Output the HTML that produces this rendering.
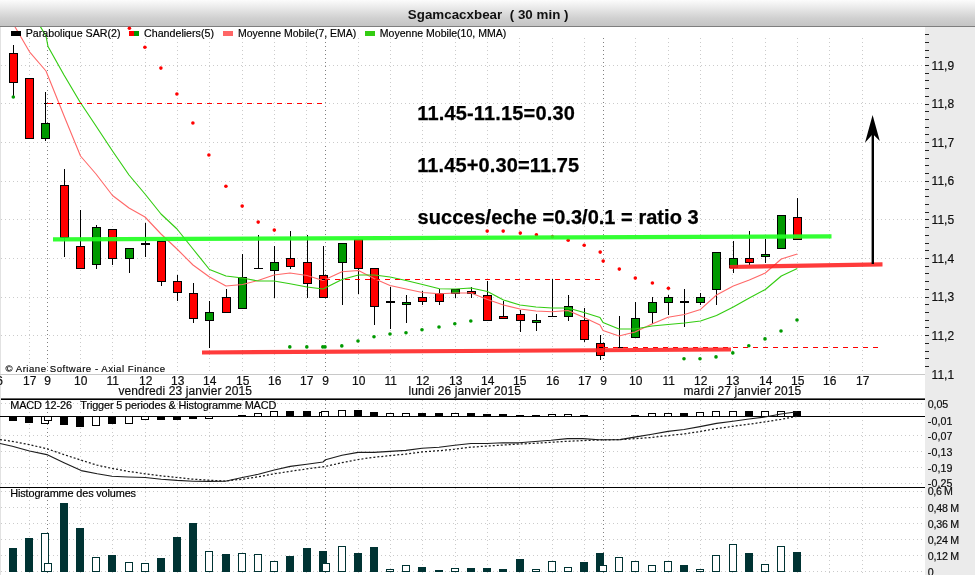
<!DOCTYPE html><html><head><meta charset="utf-8"><title>Sgamcacxbear</title><style>
html,body{margin:0;padding:0;background:#fff;}
body{width:975px;height:575px;overflow:hidden;position:relative;font-family:"Liberation Sans", sans-serif;}
#tb{position:absolute;left:0;top:0;width:975px;height:26px;background:linear-gradient(#fcfcfc 0%,#e4e4e4 38%,#d0d0d0 70%,#c4c4c4 100%);border-bottom:1px solid #7e7e7e;}
#tt{will-change:transform;position:absolute;left:0;top:6px;width:975px;text-align:center;font-weight:bold;font-size:13.5px;line-height:16px;color:#111;white-space:pre;}
svg{position:absolute;left:0;top:0;will-change:transform;}
text{font-family:"Liberation Sans", sans-serif;}.t{stroke:#000;stroke-width:0.18px;}
</style></head><body>
<div id="tb"></div>
<svg width="975" height="575" viewBox="0 0 975 575">
<rect x="925" y="27" width="50" height="548" fill="#ebebeb"/>
<g shape-rendering="crispEdges"><line x1="29.5" y1="38" x2="29.5" y2="373" stroke="#cbcbcb" stroke-width="1" stroke-dasharray="1 3"/><line x1="29.5" y1="400" x2="29.5" y2="487" stroke="#cbcbcb" stroke-width="1" stroke-dasharray="1 3"/><line x1="29.5" y1="488" x2="29.5" y2="575" stroke="#cbcbcb" stroke-width="1" stroke-dasharray="1 3"/><line x1="47.5" y1="38" x2="47.5" y2="373" stroke="#808080" stroke-width="1" stroke-dasharray="1 3"/><line x1="47.5" y1="400" x2="47.5" y2="487" stroke="#808080" stroke-width="1" stroke-dasharray="1 3"/><line x1="47.5" y1="488" x2="47.5" y2="575" stroke="#808080" stroke-width="1" stroke-dasharray="1 3"/><line x1="80.5" y1="38" x2="80.5" y2="373" stroke="#cbcbcb" stroke-width="1" stroke-dasharray="1 3"/><line x1="80.5" y1="400" x2="80.5" y2="487" stroke="#cbcbcb" stroke-width="1" stroke-dasharray="1 3"/><line x1="80.5" y1="488" x2="80.5" y2="575" stroke="#cbcbcb" stroke-width="1" stroke-dasharray="1 3"/><line x1="112.5" y1="38" x2="112.5" y2="373" stroke="#cbcbcb" stroke-width="1" stroke-dasharray="1 3"/><line x1="112.5" y1="400" x2="112.5" y2="487" stroke="#cbcbcb" stroke-width="1" stroke-dasharray="1 3"/><line x1="112.5" y1="488" x2="112.5" y2="575" stroke="#cbcbcb" stroke-width="1" stroke-dasharray="1 3"/><line x1="145.5" y1="38" x2="145.5" y2="373" stroke="#cbcbcb" stroke-width="1" stroke-dasharray="1 3"/><line x1="145.5" y1="400" x2="145.5" y2="487" stroke="#cbcbcb" stroke-width="1" stroke-dasharray="1 3"/><line x1="145.5" y1="488" x2="145.5" y2="575" stroke="#cbcbcb" stroke-width="1" stroke-dasharray="1 3"/><line x1="177.5" y1="38" x2="177.5" y2="373" stroke="#cbcbcb" stroke-width="1" stroke-dasharray="1 3"/><line x1="177.5" y1="400" x2="177.5" y2="487" stroke="#cbcbcb" stroke-width="1" stroke-dasharray="1 3"/><line x1="177.5" y1="488" x2="177.5" y2="575" stroke="#cbcbcb" stroke-width="1" stroke-dasharray="1 3"/><line x1="209.5" y1="38" x2="209.5" y2="373" stroke="#cbcbcb" stroke-width="1" stroke-dasharray="1 3"/><line x1="209.5" y1="400" x2="209.5" y2="487" stroke="#cbcbcb" stroke-width="1" stroke-dasharray="1 3"/><line x1="209.5" y1="488" x2="209.5" y2="575" stroke="#cbcbcb" stroke-width="1" stroke-dasharray="1 3"/><line x1="242.5" y1="38" x2="242.5" y2="373" stroke="#cbcbcb" stroke-width="1" stroke-dasharray="1 3"/><line x1="242.5" y1="400" x2="242.5" y2="487" stroke="#cbcbcb" stroke-width="1" stroke-dasharray="1 3"/><line x1="242.5" y1="488" x2="242.5" y2="575" stroke="#cbcbcb" stroke-width="1" stroke-dasharray="1 3"/><line x1="274.5" y1="38" x2="274.5" y2="373" stroke="#cbcbcb" stroke-width="1" stroke-dasharray="1 3"/><line x1="274.5" y1="400" x2="274.5" y2="487" stroke="#cbcbcb" stroke-width="1" stroke-dasharray="1 3"/><line x1="274.5" y1="488" x2="274.5" y2="575" stroke="#cbcbcb" stroke-width="1" stroke-dasharray="1 3"/><line x1="306.5" y1="38" x2="306.5" y2="373" stroke="#cbcbcb" stroke-width="1" stroke-dasharray="1 3"/><line x1="306.5" y1="400" x2="306.5" y2="487" stroke="#cbcbcb" stroke-width="1" stroke-dasharray="1 3"/><line x1="306.5" y1="488" x2="306.5" y2="575" stroke="#cbcbcb" stroke-width="1" stroke-dasharray="1 3"/><line x1="325.5" y1="38" x2="325.5" y2="373" stroke="#808080" stroke-width="1" stroke-dasharray="1 3"/><line x1="325.5" y1="400" x2="325.5" y2="487" stroke="#808080" stroke-width="1" stroke-dasharray="1 3"/><line x1="325.5" y1="488" x2="325.5" y2="575" stroke="#808080" stroke-width="1" stroke-dasharray="1 3"/><line x1="358.5" y1="38" x2="358.5" y2="373" stroke="#cbcbcb" stroke-width="1" stroke-dasharray="1 3"/><line x1="358.5" y1="400" x2="358.5" y2="487" stroke="#cbcbcb" stroke-width="1" stroke-dasharray="1 3"/><line x1="358.5" y1="488" x2="358.5" y2="575" stroke="#cbcbcb" stroke-width="1" stroke-dasharray="1 3"/><line x1="390.5" y1="38" x2="390.5" y2="373" stroke="#cbcbcb" stroke-width="1" stroke-dasharray="1 3"/><line x1="390.5" y1="400" x2="390.5" y2="487" stroke="#cbcbcb" stroke-width="1" stroke-dasharray="1 3"/><line x1="390.5" y1="488" x2="390.5" y2="575" stroke="#cbcbcb" stroke-width="1" stroke-dasharray="1 3"/><line x1="422.5" y1="38" x2="422.5" y2="373" stroke="#cbcbcb" stroke-width="1" stroke-dasharray="1 3"/><line x1="422.5" y1="400" x2="422.5" y2="487" stroke="#cbcbcb" stroke-width="1" stroke-dasharray="1 3"/><line x1="422.5" y1="488" x2="422.5" y2="575" stroke="#cbcbcb" stroke-width="1" stroke-dasharray="1 3"/><line x1="455.5" y1="38" x2="455.5" y2="373" stroke="#cbcbcb" stroke-width="1" stroke-dasharray="1 3"/><line x1="455.5" y1="400" x2="455.5" y2="487" stroke="#cbcbcb" stroke-width="1" stroke-dasharray="1 3"/><line x1="455.5" y1="488" x2="455.5" y2="575" stroke="#cbcbcb" stroke-width="1" stroke-dasharray="1 3"/><line x1="487.5" y1="38" x2="487.5" y2="373" stroke="#cbcbcb" stroke-width="1" stroke-dasharray="1 3"/><line x1="487.5" y1="400" x2="487.5" y2="487" stroke="#cbcbcb" stroke-width="1" stroke-dasharray="1 3"/><line x1="487.5" y1="488" x2="487.5" y2="575" stroke="#cbcbcb" stroke-width="1" stroke-dasharray="1 3"/><line x1="519.5" y1="38" x2="519.5" y2="373" stroke="#cbcbcb" stroke-width="1" stroke-dasharray="1 3"/><line x1="519.5" y1="400" x2="519.5" y2="487" stroke="#cbcbcb" stroke-width="1" stroke-dasharray="1 3"/><line x1="519.5" y1="488" x2="519.5" y2="575" stroke="#cbcbcb" stroke-width="1" stroke-dasharray="1 3"/><line x1="552.5" y1="38" x2="552.5" y2="373" stroke="#cbcbcb" stroke-width="1" stroke-dasharray="1 3"/><line x1="552.5" y1="400" x2="552.5" y2="487" stroke="#cbcbcb" stroke-width="1" stroke-dasharray="1 3"/><line x1="552.5" y1="488" x2="552.5" y2="575" stroke="#cbcbcb" stroke-width="1" stroke-dasharray="1 3"/><line x1="584.5" y1="38" x2="584.5" y2="373" stroke="#cbcbcb" stroke-width="1" stroke-dasharray="1 3"/><line x1="584.5" y1="400" x2="584.5" y2="487" stroke="#cbcbcb" stroke-width="1" stroke-dasharray="1 3"/><line x1="584.5" y1="488" x2="584.5" y2="575" stroke="#cbcbcb" stroke-width="1" stroke-dasharray="1 3"/><line x1="603.5" y1="38" x2="603.5" y2="373" stroke="#808080" stroke-width="1" stroke-dasharray="1 3"/><line x1="603.5" y1="400" x2="603.5" y2="487" stroke="#808080" stroke-width="1" stroke-dasharray="1 3"/><line x1="603.5" y1="488" x2="603.5" y2="575" stroke="#808080" stroke-width="1" stroke-dasharray="1 3"/><line x1="635.5" y1="38" x2="635.5" y2="373" stroke="#cbcbcb" stroke-width="1" stroke-dasharray="1 3"/><line x1="635.5" y1="400" x2="635.5" y2="487" stroke="#cbcbcb" stroke-width="1" stroke-dasharray="1 3"/><line x1="635.5" y1="488" x2="635.5" y2="575" stroke="#cbcbcb" stroke-width="1" stroke-dasharray="1 3"/><line x1="668.5" y1="38" x2="668.5" y2="373" stroke="#cbcbcb" stroke-width="1" stroke-dasharray="1 3"/><line x1="668.5" y1="400" x2="668.5" y2="487" stroke="#cbcbcb" stroke-width="1" stroke-dasharray="1 3"/><line x1="668.5" y1="488" x2="668.5" y2="575" stroke="#cbcbcb" stroke-width="1" stroke-dasharray="1 3"/><line x1="700.5" y1="38" x2="700.5" y2="373" stroke="#cbcbcb" stroke-width="1" stroke-dasharray="1 3"/><line x1="700.5" y1="400" x2="700.5" y2="487" stroke="#cbcbcb" stroke-width="1" stroke-dasharray="1 3"/><line x1="700.5" y1="488" x2="700.5" y2="575" stroke="#cbcbcb" stroke-width="1" stroke-dasharray="1 3"/><line x1="732.5" y1="38" x2="732.5" y2="373" stroke="#cbcbcb" stroke-width="1" stroke-dasharray="1 3"/><line x1="732.5" y1="400" x2="732.5" y2="487" stroke="#cbcbcb" stroke-width="1" stroke-dasharray="1 3"/><line x1="732.5" y1="488" x2="732.5" y2="575" stroke="#cbcbcb" stroke-width="1" stroke-dasharray="1 3"/><line x1="765.5" y1="38" x2="765.5" y2="373" stroke="#cbcbcb" stroke-width="1" stroke-dasharray="1 3"/><line x1="765.5" y1="400" x2="765.5" y2="487" stroke="#cbcbcb" stroke-width="1" stroke-dasharray="1 3"/><line x1="765.5" y1="488" x2="765.5" y2="575" stroke="#cbcbcb" stroke-width="1" stroke-dasharray="1 3"/><line x1="797.5" y1="38" x2="797.5" y2="373" stroke="#cbcbcb" stroke-width="1" stroke-dasharray="1 3"/><line x1="797.5" y1="400" x2="797.5" y2="487" stroke="#cbcbcb" stroke-width="1" stroke-dasharray="1 3"/><line x1="797.5" y1="488" x2="797.5" y2="575" stroke="#cbcbcb" stroke-width="1" stroke-dasharray="1 3"/><line x1="829.5" y1="38" x2="829.5" y2="373" stroke="#cbcbcb" stroke-width="1" stroke-dasharray="1 3"/><line x1="829.5" y1="400" x2="829.5" y2="487" stroke="#cbcbcb" stroke-width="1" stroke-dasharray="1 3"/><line x1="829.5" y1="488" x2="829.5" y2="575" stroke="#cbcbcb" stroke-width="1" stroke-dasharray="1 3"/><line x1="862.5" y1="38" x2="862.5" y2="373" stroke="#cbcbcb" stroke-width="1" stroke-dasharray="1 3"/><line x1="862.5" y1="400" x2="862.5" y2="487" stroke="#cbcbcb" stroke-width="1" stroke-dasharray="1 3"/><line x1="862.5" y1="488" x2="862.5" y2="575" stroke="#cbcbcb" stroke-width="1" stroke-dasharray="1 3"/><line x1="1" y1="65.5" x2="925" y2="65.5" stroke="#cbcbcb" stroke-width="1" stroke-dasharray="1 3"/><line x1="1" y1="103.5" x2="925" y2="103.5" stroke="#cbcbcb" stroke-width="1" stroke-dasharray="1 3"/><line x1="1" y1="142.5" x2="925" y2="142.5" stroke="#cbcbcb" stroke-width="1" stroke-dasharray="1 3"/><line x1="1" y1="181.5" x2="925" y2="181.5" stroke="#cbcbcb" stroke-width="1" stroke-dasharray="1 3"/><line x1="1" y1="219.5" x2="925" y2="219.5" stroke="#cbcbcb" stroke-width="1" stroke-dasharray="1 3"/><line x1="1" y1="258.5" x2="925" y2="258.5" stroke="#cbcbcb" stroke-width="1" stroke-dasharray="1 3"/><line x1="1" y1="297.5" x2="925" y2="297.5" stroke="#cbcbcb" stroke-width="1" stroke-dasharray="1 3"/><line x1="1" y1="335.5" x2="925" y2="335.5" stroke="#cbcbcb" stroke-width="1" stroke-dasharray="1 3"/><line x1="1" y1="403.5" x2="925" y2="403.5" stroke="#cbcbcb" stroke-width="1" stroke-dasharray="1 3"/><line x1="1" y1="435.5" x2="925" y2="435.5" stroke="#cbcbcb" stroke-width="1" stroke-dasharray="1 3"/><line x1="1" y1="451.5" x2="925" y2="451.5" stroke="#cbcbcb" stroke-width="1" stroke-dasharray="1 3"/><line x1="1" y1="467.5" x2="925" y2="467.5" stroke="#cbcbcb" stroke-width="1" stroke-dasharray="1 3"/><line x1="1" y1="483.5" x2="925" y2="483.5" stroke="#cbcbcb" stroke-width="1" stroke-dasharray="1 3"/><line x1="1" y1="491.5" x2="925" y2="491.5" stroke="#cbcbcb" stroke-width="1" stroke-dasharray="1 3"/><line x1="1" y1="507.5" x2="925" y2="507.5" stroke="#cbcbcb" stroke-width="1" stroke-dasharray="1 3"/><line x1="1" y1="523.5" x2="925" y2="523.5" stroke="#cbcbcb" stroke-width="1" stroke-dasharray="1 3"/><line x1="1" y1="539.5" x2="925" y2="539.5" stroke="#cbcbcb" stroke-width="1" stroke-dasharray="1 3"/><line x1="1" y1="555.5" x2="925" y2="555.5" stroke="#cbcbcb" stroke-width="1" stroke-dasharray="1 3"/><line x1="1" y1="571.5" x2="925" y2="571.5" stroke="#cbcbcb" stroke-width="1" stroke-dasharray="1 3"/></g>
<rect x="0" y="27" width="1" height="548" fill="#e2e2e2"/>
<g shape-rendering="crispEdges">
<rect x="0" y="374" width="925" height="1" fill="#c8c8c8"/>
<rect x="0" y="416" width="925" height="1" fill="#000"/>
<rect x="0" y="487" width="925" height="1" fill="#000"/>
<rect x="925" y="34" width="4" height="1" fill="#222"/>
<rect x="925" y="42" width="4" height="1" fill="#222"/>
<rect x="925" y="50" width="4" height="1" fill="#222"/>
<rect x="925" y="57" width="4" height="1" fill="#222"/>
<rect x="925" y="65" width="4" height="1" fill="#222"/>
<rect x="925" y="73" width="4" height="1" fill="#222"/>
<rect x="925" y="80" width="4" height="1" fill="#222"/>
<rect x="925" y="88" width="4" height="1" fill="#222"/>
<rect x="925" y="96" width="4" height="1" fill="#222"/>
<rect x="925" y="104" width="4" height="1" fill="#222"/>
<rect x="925" y="111" width="4" height="1" fill="#222"/>
<rect x="925" y="119" width="4" height="1" fill="#222"/>
<rect x="925" y="127" width="4" height="1" fill="#222"/>
<rect x="925" y="134" width="4" height="1" fill="#222"/>
<rect x="925" y="142" width="4" height="1" fill="#222"/>
<rect x="925" y="150" width="4" height="1" fill="#222"/>
<rect x="925" y="158" width="4" height="1" fill="#222"/>
<rect x="925" y="165" width="4" height="1" fill="#222"/>
<rect x="925" y="173" width="4" height="1" fill="#222"/>
<rect x="925" y="181" width="4" height="1" fill="#222"/>
<rect x="925" y="189" width="4" height="1" fill="#222"/>
<rect x="925" y="196" width="4" height="1" fill="#222"/>
<rect x="925" y="204" width="4" height="1" fill="#222"/>
<rect x="925" y="212" width="4" height="1" fill="#222"/>
<rect x="925" y="219" width="4" height="1" fill="#222"/>
<rect x="925" y="227" width="4" height="1" fill="#222"/>
<rect x="925" y="235" width="4" height="1" fill="#222"/>
<rect x="925" y="243" width="4" height="1" fill="#222"/>
<rect x="925" y="250" width="4" height="1" fill="#222"/>
<rect x="925" y="258" width="4" height="1" fill="#222"/>
<rect x="925" y="266" width="4" height="1" fill="#222"/>
<rect x="925" y="273" width="4" height="1" fill="#222"/>
<rect x="925" y="281" width="4" height="1" fill="#222"/>
<rect x="925" y="289" width="4" height="1" fill="#222"/>
<rect x="925" y="297" width="4" height="1" fill="#222"/>
<rect x="925" y="304" width="4" height="1" fill="#222"/>
<rect x="925" y="312" width="4" height="1" fill="#222"/>
<rect x="925" y="320" width="4" height="1" fill="#222"/>
<rect x="925" y="327" width="4" height="1" fill="#222"/>
<rect x="925" y="335" width="4" height="1" fill="#222"/>
<rect x="925" y="343" width="4" height="1" fill="#222"/>
<rect x="925" y="351" width="4" height="1" fill="#222"/>
<rect x="925" y="358" width="4" height="1" fill="#222"/>
<rect x="925" y="366" width="4" height="1" fill="#222"/>
</g>
<g shape-rendering="crispEdges">
<rect x="13" y="45" width="1" height="52" fill="#000"/>
<rect x="9.5" y="53.5" width="8" height="29" fill="#ff0000" stroke="#000" stroke-width="1"/>
<rect x="29" y="78" width="1" height="61" fill="#000"/>
<rect x="25.5" y="78.5" width="8" height="60" fill="#ff0000" stroke="#000" stroke-width="1"/>
<rect x="45" y="92" width="1" height="49" fill="#000"/>
<rect x="41.5" y="123.5" width="8" height="15" fill="#009900" stroke="#000" stroke-width="1"/>
<rect x="64" y="169" width="1" height="88" fill="#000"/>
<rect x="60.5" y="185.5" width="8" height="52" fill="#ff0000" stroke="#000" stroke-width="1"/>
<rect x="80" y="210" width="1" height="59" fill="#000"/>
<rect x="76.5" y="246.5" width="8" height="22" fill="#ff0000" stroke="#000" stroke-width="1"/>
<rect x="96" y="225" width="1" height="44" fill="#000"/>
<rect x="92.5" y="227.5" width="8" height="37" fill="#009900" stroke="#000" stroke-width="1"/>
<rect x="112" y="229" width="1" height="36" fill="#000"/>
<rect x="108.5" y="229.5" width="8" height="29" fill="#ff0000" stroke="#000" stroke-width="1"/>
<rect x="129" y="248" width="1" height="25" fill="#000"/>
<rect x="125.5" y="248.5" width="8" height="10" fill="#009900" stroke="#000" stroke-width="1"/>
<rect x="145" y="223" width="1" height="34" fill="#000"/>
<rect x="141" y="243" width="9" height="2" fill="#000"/>
<rect x="161" y="241" width="1" height="45" fill="#000"/>
<rect x="157.5" y="241.5" width="8" height="40" fill="#ff0000" stroke="#000" stroke-width="1"/>
<rect x="177" y="275" width="1" height="26" fill="#000"/>
<rect x="173.5" y="281.5" width="8" height="11" fill="#ff0000" stroke="#000" stroke-width="1"/>
<rect x="193" y="283" width="1" height="40" fill="#000"/>
<rect x="189.5" y="293.5" width="8" height="25" fill="#ff0000" stroke="#000" stroke-width="1"/>
<rect x="209" y="301" width="1" height="47" fill="#000"/>
<rect x="205.5" y="312.5" width="8" height="8" fill="#009900" stroke="#000" stroke-width="1"/>
<rect x="226" y="289" width="1" height="24" fill="#000"/>
<rect x="222.5" y="297.5" width="8" height="15" fill="#ff0000" stroke="#000" stroke-width="1"/>
<rect x="242" y="254" width="1" height="55" fill="#000"/>
<rect x="238.5" y="277.5" width="8" height="31" fill="#009900" stroke="#000" stroke-width="1"/>
<rect x="258" y="235" width="1" height="34" fill="#000"/>
<rect x="254" y="268" width="9" height="1" fill="#000"/>
<rect x="274" y="246" width="1" height="52" fill="#000"/>
<rect x="270.5" y="262.5" width="8" height="8" fill="#009900" stroke="#000" stroke-width="1"/>
<rect x="290" y="231" width="1" height="38" fill="#000"/>
<rect x="286.5" y="258.5" width="8" height="8" fill="#ff0000" stroke="#000" stroke-width="1"/>
<rect x="307" y="235" width="1" height="63" fill="#000"/>
<rect x="303.5" y="262.5" width="8" height="21" fill="#ff0000" stroke="#000" stroke-width="1"/>
<rect x="323" y="246" width="1" height="52" fill="#000"/>
<rect x="319.5" y="275.5" width="8" height="22" fill="#ff0000" stroke="#000" stroke-width="1"/>
<rect x="342" y="243" width="1" height="62" fill="#000"/>
<rect x="338.5" y="243.5" width="8" height="19" fill="#009900" stroke="#000" stroke-width="1"/>
<rect x="358" y="239" width="1" height="55" fill="#000"/>
<rect x="354.5" y="239.5" width="8" height="29" fill="#ff0000" stroke="#000" stroke-width="1"/>
<rect x="374" y="268" width="1" height="57" fill="#000"/>
<rect x="370.5" y="268.5" width="8" height="38" fill="#ff0000" stroke="#000" stroke-width="1"/>
<rect x="390" y="287" width="1" height="42" fill="#000"/>
<rect x="386" y="301" width="9" height="2" fill="#000"/>
<rect x="406" y="295" width="1" height="28" fill="#000"/>
<rect x="402.5" y="302.5" width="8" height="2" fill="#009900" stroke="#000" stroke-width="1"/>
<rect x="422" y="291" width="1" height="14" fill="#000"/>
<rect x="418.5" y="297.5" width="8" height="4" fill="#ff0000" stroke="#000" stroke-width="1"/>
<rect x="439" y="289" width="1" height="16" fill="#000"/>
<rect x="435.5" y="293.5" width="8" height="8" fill="#ff0000" stroke="#000" stroke-width="1"/>
<rect x="455" y="289" width="1" height="9" fill="#000"/>
<rect x="451.5" y="289.5" width="8" height="4" fill="#009900" stroke="#000" stroke-width="1"/>
<rect x="471" y="287" width="1" height="11" fill="#000"/>
<rect x="467.5" y="291.5" width="8" height="2" fill="#ff0000" stroke="#000" stroke-width="1"/>
<rect x="487" y="281" width="1" height="40" fill="#000"/>
<rect x="483.5" y="295.5" width="8" height="25" fill="#ff0000" stroke="#000" stroke-width="1"/>
<rect x="503" y="301" width="1" height="18" fill="#000"/>
<rect x="499.5" y="316.5" width="8" height="2" fill="#ff0000" stroke="#000" stroke-width="1"/>
<rect x="520" y="310" width="1" height="22" fill="#000"/>
<rect x="516.5" y="314.5" width="8" height="6" fill="#ff0000" stroke="#000" stroke-width="1"/>
<rect x="536" y="314" width="1" height="17" fill="#000"/>
<rect x="532.5" y="320.5" width="8" height="2" fill="#009900" stroke="#000" stroke-width="1"/>
<rect x="552" y="279" width="1" height="38" fill="#000"/>
<rect x="548" y="316" width="9" height="1" fill="#000"/>
<rect x="568" y="295" width="1" height="26" fill="#000"/>
<rect x="564.5" y="306.5" width="8" height="10" fill="#009900" stroke="#000" stroke-width="1"/>
<rect x="584" y="308" width="1" height="34" fill="#000"/>
<rect x="580.5" y="320.5" width="8" height="19" fill="#ff0000" stroke="#000" stroke-width="1"/>
<rect x="600" y="335" width="1" height="25" fill="#000"/>
<rect x="596.5" y="343.5" width="8" height="12" fill="#ff0000" stroke="#000" stroke-width="1"/>
<rect x="619" y="316" width="1" height="32" fill="#000"/>
<rect x="615" y="347" width="9" height="1" fill="#000"/>
<rect x="635" y="302" width="1" height="36" fill="#000"/>
<rect x="631.5" y="318.5" width="8" height="19" fill="#009900" stroke="#000" stroke-width="1"/>
<rect x="652" y="297" width="1" height="27" fill="#000"/>
<rect x="648.5" y="302.5" width="8" height="10" fill="#009900" stroke="#000" stroke-width="1"/>
<rect x="668" y="295" width="1" height="20" fill="#000"/>
<rect x="664.5" y="297.5" width="8" height="5" fill="#009900" stroke="#000" stroke-width="1"/>
<rect x="684" y="289" width="1" height="38" fill="#000"/>
<rect x="680" y="301" width="9" height="2" fill="#000"/>
<rect x="700" y="293" width="1" height="12" fill="#000"/>
<rect x="696.5" y="297.5" width="8" height="5" fill="#009900" stroke="#000" stroke-width="1"/>
<rect x="716" y="252" width="1" height="53" fill="#000"/>
<rect x="712.5" y="252.5" width="8" height="37" fill="#009900" stroke="#000" stroke-width="1"/>
<rect x="733" y="241" width="1" height="32" fill="#000"/>
<rect x="729.5" y="258.5" width="8" height="9" fill="#009900" stroke="#000" stroke-width="1"/>
<rect x="749" y="231" width="1" height="34" fill="#000"/>
<rect x="745.5" y="258.5" width="8" height="4" fill="#ff0000" stroke="#000" stroke-width="1"/>
<rect x="765" y="239" width="1" height="24" fill="#000"/>
<rect x="761.5" y="254.5" width="8" height="2" fill="#009900" stroke="#000" stroke-width="1"/>
<rect x="781" y="215" width="1" height="34" fill="#000"/>
<rect x="777.5" y="215.5" width="8" height="33" fill="#009900" stroke="#000" stroke-width="1"/>
<rect x="797" y="198" width="1" height="42" fill="#000"/>
<rect x="793.5" y="217.5" width="8" height="22" fill="#ff0000" stroke="#000" stroke-width="1"/>
</g>
<rect x="1" y="398.4" width="924" height="1.6" fill="#000"/>
<clipPath id="cm"><rect x="0" y="27" width="925" height="346"/></clipPath><g clip-path="url(#cm)">
<polyline fill="none" stroke="#ff6868" stroke-width="1.1" stroke-linejoin="round"  points="14.5,26.0 29.5,51.8 46.0,71.0 64.5,117.0 80.5,156.0 96.0,174.0 112.5,195.5 129.0,208.0 145.0,217.0 161.0,234.0 177.0,249.0 193.0,265.0 209.5,277.0 226.0,286.0 242.5,284.5 258.0,280.5 274.0,275.0 290.0,273.0 307.0,275.5 323.0,280.5 342.0,271.8 358.5,270.5 374.5,278.8 390.0,285.5 406.0,289.0 422.5,292.5 439.5,293.8 455.5,293.0 471.0,293.0 487.5,299.5 503.5,305.0 520.0,309.0 536.0,311.0 552.0,311.8 568.0,310.5 584.0,317.5 600.0,325.0 603.0,330.5 619.0,336.0 635.0,332.0 652.0,324.0 668.0,317.3 684.5,314.5 700.5,309.4 716.5,295.0 733.3,286.0 749.3,280.0 765.3,273.0 781.3,259.0 797.3,254.0"/>
<polyline fill="none" stroke="#33cc11" stroke-width="1.15" stroke-linejoin="round"  points="40.0,26.0 46.0,36.0 48.0,46.5 64.0,75.0 80.0,102.0 96.0,126.0 112.5,151.0 129.0,175.0 145.0,194.0 161.0,214.0 177.0,229.0 193.0,249.0 209.5,269.5 226.0,276.0 242.5,278.0 258.0,281.0 274.0,281.0 290.0,283.8 307.0,287.0 323.0,289.0 342.0,279.5 358.5,275.0 374.5,275.0 390.0,277.0 406.0,280.5 422.5,284.5 439.5,288.8 455.5,289.0 471.0,288.0 487.5,291.5 503.5,300.0 520.0,305.0 536.0,307.0 552.0,308.0 568.0,308.0 584.0,312.5 600.0,317.5 603.0,322.5 619.0,329.0 635.0,329.0 652.0,326.0 668.0,324.5 684.5,323.0 700.5,321.0 716.5,315.5 733.3,307.0 749.3,298.0 765.3,289.5 781.3,276.0 797.3,268.5"/>
</g>
<g shape-rendering="crispEdges">
<rect x="44" y="103" width="9" height="1" fill="#000"/>
<rect x="47" y="103" width="5" height="1" fill="#ff0000"/>
<rect x="57" y="103" width="5" height="1" fill="#ff0000"/>
<rect x="67" y="103" width="5" height="1" fill="#ff0000"/>
<rect x="77" y="103" width="5" height="1" fill="#ff0000"/>
<rect x="87" y="103" width="5" height="1" fill="#ff0000"/>
<rect x="97" y="103" width="5" height="1" fill="#ff0000"/>
<rect x="107" y="103" width="5" height="1" fill="#ff0000"/>
<rect x="117" y="103" width="5" height="1" fill="#ff0000"/>
<rect x="127" y="103" width="5" height="1" fill="#ff0000"/>
<rect x="137" y="103" width="5" height="1" fill="#ff0000"/>
<rect x="147" y="103" width="5" height="1" fill="#ff0000"/>
<rect x="157" y="103" width="5" height="1" fill="#ff0000"/>
<rect x="167" y="103" width="5" height="1" fill="#ff0000"/>
<rect x="177" y="103" width="5" height="1" fill="#ff0000"/>
<rect x="187" y="103" width="5" height="1" fill="#ff0000"/>
<rect x="197" y="103" width="5" height="1" fill="#ff0000"/>
<rect x="207" y="103" width="5" height="1" fill="#ff0000"/>
<rect x="217" y="103" width="5" height="1" fill="#ff0000"/>
<rect x="227" y="103" width="5" height="1" fill="#ff0000"/>
<rect x="237" y="103" width="5" height="1" fill="#ff0000"/>
<rect x="247" y="103" width="5" height="1" fill="#ff0000"/>
<rect x="257" y="103" width="5" height="1" fill="#ff0000"/>
<rect x="267" y="103" width="5" height="1" fill="#ff0000"/>
<rect x="277" y="103" width="5" height="1" fill="#ff0000"/>
<rect x="287" y="103" width="5" height="1" fill="#ff0000"/>
<rect x="297" y="103" width="5" height="1" fill="#ff0000"/>
<rect x="307" y="103" width="5" height="1" fill="#ff0000"/>
<rect x="317" y="103" width="5" height="1" fill="#ff0000"/>
<rect x="322" y="279" width="3" height="1" fill="#000"/>
<rect x="325" y="279" width="5" height="1" fill="#ff0000"/>
<rect x="335" y="279" width="5" height="1" fill="#ff0000"/>
<rect x="345" y="279" width="5" height="1" fill="#ff0000"/>
<rect x="355" y="279" width="5" height="1" fill="#ff0000"/>
<rect x="365" y="279" width="5" height="1" fill="#ff0000"/>
<rect x="375" y="279" width="5" height="1" fill="#ff0000"/>
<rect x="385" y="279" width="5" height="1" fill="#ff0000"/>
<rect x="395" y="279" width="5" height="1" fill="#ff0000"/>
<rect x="405" y="279" width="5" height="1" fill="#ff0000"/>
<rect x="415" y="279" width="5" height="1" fill="#ff0000"/>
<rect x="425" y="279" width="5" height="1" fill="#ff0000"/>
<rect x="435" y="279" width="5" height="1" fill="#ff0000"/>
<rect x="445" y="279" width="5" height="1" fill="#ff0000"/>
<rect x="455" y="279" width="5" height="1" fill="#ff0000"/>
<rect x="465" y="279" width="5" height="1" fill="#ff0000"/>
<rect x="475" y="279" width="5" height="1" fill="#ff0000"/>
<rect x="485" y="279" width="5" height="1" fill="#ff0000"/>
<rect x="495" y="279" width="5" height="1" fill="#ff0000"/>
<rect x="505" y="279" width="5" height="1" fill="#ff0000"/>
<rect x="515" y="279" width="5" height="1" fill="#ff0000"/>
<rect x="525" y="279" width="5" height="1" fill="#ff0000"/>
<rect x="535" y="279" width="5" height="1" fill="#ff0000"/>
<rect x="545" y="279" width="5" height="1" fill="#ff0000"/>
<rect x="555" y="279" width="5" height="1" fill="#ff0000"/>
<rect x="565" y="279" width="5" height="1" fill="#ff0000"/>
<rect x="575" y="279" width="5" height="1" fill="#ff0000"/>
<rect x="585" y="279" width="5" height="1" fill="#ff0000"/>
<rect x="595" y="279" width="5" height="1" fill="#ff0000"/>
<rect x="599" y="347" width="4" height="1" fill="#000"/>
<rect x="603" y="347" width="5" height="1" fill="#ff0000"/>
<rect x="613" y="347" width="5" height="1" fill="#ff0000"/>
<rect x="623" y="347" width="5" height="1" fill="#ff0000"/>
<rect x="633" y="347" width="5" height="1" fill="#ff0000"/>
<rect x="643" y="347" width="5" height="1" fill="#ff0000"/>
<rect x="653" y="347" width="5" height="1" fill="#ff0000"/>
<rect x="663" y="347" width="5" height="1" fill="#ff0000"/>
<rect x="673" y="347" width="5" height="1" fill="#ff0000"/>
<rect x="683" y="347" width="5" height="1" fill="#ff0000"/>
<rect x="693" y="347" width="5" height="1" fill="#ff0000"/>
<rect x="703" y="347" width="5" height="1" fill="#ff0000"/>
<rect x="713" y="347" width="5" height="1" fill="#ff0000"/>
<rect x="723" y="347" width="5" height="1" fill="#ff0000"/>
<rect x="733" y="347" width="5" height="1" fill="#ff0000"/>
<rect x="743" y="347" width="5" height="1" fill="#ff0000"/>
<rect x="753" y="347" width="5" height="1" fill="#ff0000"/>
<rect x="763" y="347" width="5" height="1" fill="#ff0000"/>
<rect x="773" y="347" width="5" height="1" fill="#ff0000"/>
<rect x="783" y="347" width="5" height="1" fill="#ff0000"/>
<rect x="793" y="347" width="5" height="1" fill="#ff0000"/>
<rect x="803" y="347" width="5" height="1" fill="#ff0000"/>
<rect x="813" y="347" width="5" height="1" fill="#ff0000"/>
<rect x="823" y="347" width="5" height="1" fill="#ff0000"/>
<rect x="833" y="347" width="5" height="1" fill="#ff0000"/>
<rect x="843" y="347" width="5" height="1" fill="#ff0000"/>
<rect x="853" y="347" width="5" height="1" fill="#ff0000"/>
<rect x="863" y="347" width="5" height="1" fill="#ff0000"/>
<rect x="873" y="347" width="5" height="1" fill="#ff0000"/>
</g>
<circle cx="129.4" cy="28.3" r="1.8" fill="#ff0000"/>
<circle cx="144.9" cy="47.3" r="1.8" fill="#ff0000"/>
<circle cx="160.9" cy="68.1" r="1.8" fill="#ff0000"/>
<circle cx="176.9" cy="94.0" r="1.8" fill="#ff0000"/>
<circle cx="192.9" cy="123.0" r="1.8" fill="#ff0000"/>
<circle cx="208.9" cy="155.0" r="1.8" fill="#ff0000"/>
<circle cx="225.9" cy="186.3" r="1.8" fill="#ff0000"/>
<circle cx="242.2" cy="206.1" r="1.8" fill="#ff0000"/>
<circle cx="258.2" cy="222.1" r="1.8" fill="#ff0000"/>
<circle cx="274.3" cy="230.1" r="1.8" fill="#ff0000"/>
<circle cx="487.2" cy="231.1" r="1.8" fill="#ff0000"/>
<circle cx="503.2" cy="231.1" r="1.8" fill="#ff0000"/>
<circle cx="520.3" cy="233.1" r="1.8" fill="#ff0000"/>
<circle cx="536.4" cy="234.8" r="1.8" fill="#ff0000"/>
<circle cx="552.4" cy="236.8" r="1.8" fill="#ff0000"/>
<circle cx="568.2" cy="240.3" r="1.8" fill="#ff0000"/>
<circle cx="584.2" cy="245.3" r="1.8" fill="#ff0000"/>
<circle cx="600.2" cy="252.1" r="1.8" fill="#ff0000"/>
<circle cx="603.2" cy="261.1" r="1.8" fill="#ff0000"/>
<circle cx="619.3" cy="269.1" r="1.8" fill="#ff0000"/>
<circle cx="635.3" cy="278.1" r="1.8" fill="#ff0000"/>
<circle cx="652.4" cy="283.0" r="1.8" fill="#ff0000"/>
<circle cx="668.4" cy="288.3" r="1.8" fill="#ff0000"/>
<circle cx="13.3" cy="97.0" r="1.8" fill="#009900"/>
<circle cx="289.8" cy="346.9" r="1.8" fill="#009900"/>
<circle cx="306.8" cy="346.9" r="1.8" fill="#009900"/>
<circle cx="322.8" cy="346.9" r="1.8" fill="#009900"/>
<circle cx="325.0" cy="346.9" r="1.8" fill="#009900"/>
<circle cx="341.8" cy="345.9" r="1.8" fill="#009900"/>
<circle cx="358.0" cy="341.0" r="1.8" fill="#009900"/>
<circle cx="374.0" cy="336.8" r="1.8" fill="#009900"/>
<circle cx="390.0" cy="334.0" r="1.8" fill="#009900"/>
<circle cx="406.0" cy="332.8" r="1.8" fill="#009900"/>
<circle cx="422.0" cy="329.7" r="1.8" fill="#009900"/>
<circle cx="439.0" cy="327.0" r="1.8" fill="#009900"/>
<circle cx="454.8" cy="323.8" r="1.8" fill="#009900"/>
<circle cx="470.8" cy="321.0" r="1.8" fill="#009900"/>
<circle cx="684.0" cy="358.8" r="1.8" fill="#009900"/>
<circle cx="700.0" cy="358.8" r="1.8" fill="#009900"/>
<circle cx="716.0" cy="356.9" r="1.8" fill="#009900"/>
<circle cx="732.8" cy="352.9" r="1.8" fill="#009900"/>
<circle cx="748.8" cy="345.8" r="1.8" fill="#009900"/>
<circle cx="765.0" cy="338.9" r="1.8" fill="#009900"/>
<circle cx="781.0" cy="331.0" r="1.8" fill="#009900"/>
<circle cx="797.0" cy="320.0" r="1.8" fill="#009900"/>
<line x1="53" y1="239.4" x2="831.5" y2="236.4" stroke="#22ff22" stroke-opacity="0.92" stroke-width="4.2"/>
<line x1="202" y1="352.5" x2="731" y2="349.5" stroke="#ff2020" stroke-opacity="0.88" stroke-width="4.2"/>
<line x1="729.5" y1="267" x2="882.5" y2="264.3" stroke="#ff2020" stroke-opacity="0.88" stroke-width="4.2"/>
<line x1="872.8" y1="264" x2="872.8" y2="132" stroke="#000" stroke-width="2.4"/>
<path d="M872.6,115 L879.8,141 L872.8,134 L865.0,142.8 Z" fill="#000"/>
<text x="407.8" y="19.2" font-size="13.33" font-weight="bold" fill="#111" textLength="160.7" lengthAdjust="spacing" xml:space="preserve">Sgamcacxbear  ( 30 min )</text>
<g font-weight="bold" font-size="20" fill="#000" stroke="#000" stroke-width="0.25">
<text x="417.2" y="120" textLength="157.6" lengthAdjust="spacing">11.45-11.15=0.30</text>
<text x="417.2" y="172" textLength="162" lengthAdjust="spacing">11.45+0.30=11.75</text>
<text x="417.6" y="223.5" textLength="281" lengthAdjust="spacing">succes/eche =0.3/0.1 = ratio 3</text>
</g>
<g shape-rendering="crispEdges">
<rect x="11" y="31" width="10" height="5" fill="#000"/>
<rect x="129" y="31" width="5" height="5" fill="#ff0000"/><rect x="134" y="31" width="5" height="5" fill="#009900"/>
<rect x="223" y="31" width="10" height="5" fill="#ff6666"/>
<rect x="365" y="31" width="10" height="5" fill="#33cc11"/>
</g>
<g font-size="10.9" fill="#000" class="t">
<text x="25.7" y="37" textLength="94.8" lengthAdjust="spacingAndGlyphs">Parabolique SAR(2)</text>
<text x="144" y="37" textLength="70" lengthAdjust="spacingAndGlyphs">Chandeliers(5)</text>
<text x="238" y="37" textLength="118.3" lengthAdjust="spacingAndGlyphs">Moyenne Mobile(7, EMA)</text>
<text x="379.8" y="37" textLength="126.5" lengthAdjust="spacingAndGlyphs">Moyenne Mobile(10, MMA)</text>
</g>
<text x="5.5" y="372" font-size="9.6" fill="#000" stroke="#000" stroke-width="0.15" textLength="159.5" lengthAdjust="spacing">© Ariane Software - Axial Finance</text>
<g font-size="12" fill="#111" text-anchor="middle" class="t">
<text x="-3.8" y="385">16</text>
<text x="29.7" y="385">17</text>
<text x="47.7" y="385">9</text>
<text x="80.7" y="385">10</text>
<text x="112.7" y="385">11</text>
<text x="145.7" y="385">12</text>
<text x="177.7" y="385">13</text>
<text x="209.7" y="385">14</text>
<text x="242.7" y="385">15</text>
<text x="274.7" y="385">16</text>
<text x="306.7" y="385">17</text>
<text x="325.7" y="385">9</text>
<text x="358.7" y="385">10</text>
<text x="390.7" y="385">11</text>
<text x="422.7" y="385">12</text>
<text x="455.7" y="385">13</text>
<text x="487.7" y="385">14</text>
<text x="519.7" y="385">15</text>
<text x="552.7" y="385">16</text>
<text x="584.7" y="385">17</text>
<text x="603.7" y="385">9</text>
<text x="635.7" y="385">10</text>
<text x="668.7" y="385">11</text>
<text x="700.7" y="385">12</text>
<text x="732.7" y="385">13</text>
<text x="765.7" y="385">14</text>
<text x="797.7" y="385">15</text>
<text x="829.7" y="385">16</text>
<text x="862.7" y="385">17</text>
</g>
<g font-size="12" fill="#111" class="t">
<text x="118.5" y="395" textLength="133.5" lengthAdjust="spacing">vendredi 23 janvier 2015</text>
<text x="408.5" y="395" textLength="112.5" lengthAdjust="spacing">lundi 26 janvier 2015</text>
<text x="683.5" y="395" textLength="117.7" lengthAdjust="spacing">mardi 27 janvier 2015</text>
</g>
<g font-size="12" fill="#111" class="t">
<text x="931.6" y="69.5">11,9</text>
<text x="931.6" y="108.1">11,8</text>
<text x="931.6" y="146.8">11,7</text>
<text x="931.6" y="185.4">11,6</text>
<text x="931.6" y="224.0">11,5</text>
<text x="931.6" y="262.6">11,4</text>
<text x="931.6" y="301.2">11,3</text>
<text x="931.6" y="339.9">11,2</text>
<text x="931.6" y="378.5">11,1</text>
<text x="927.8" y="408.2" font-size="10.67" textLength="20.4" lengthAdjust="spacing">0,05</text>
<text x="927.8" y="424.5" font-size="10.67" textLength="24.7" lengthAdjust="spacing">-0,01</text>
<text x="927.8" y="440.3" font-size="10.67" textLength="24.7" lengthAdjust="spacing">-0,07</text>
<text x="927.8" y="455.8" font-size="10.67" textLength="24.7" lengthAdjust="spacing">-0,13</text>
<text x="927.8" y="471.8" font-size="10.67" textLength="24.7" lengthAdjust="spacing">-0,19</text>
<text x="927.8" y="487.4" font-size="10.67" textLength="24.7" lengthAdjust="spacing">-0,25</text>
<text x="927.8" y="495.2" font-size="10.67" textLength="25.2" lengthAdjust="spacing">0,6 M</text>
<text x="927.8" y="511.6" font-size="10.67" textLength="31.4" lengthAdjust="spacing">0,48 M</text>
<text x="927.8" y="527.7" font-size="10.67" textLength="31.4" lengthAdjust="spacing">0,36 M</text>
<text x="927.8" y="543.5" font-size="10.67" textLength="31.4" lengthAdjust="spacing">0,24 M</text>
<text x="927.8" y="559.6" font-size="10.67" textLength="31.4" lengthAdjust="spacing">0,12 M</text>
<text x="927.8" y="575.6" font-size="10.67" textLength="5.9" lengthAdjust="spacing">0</text>
</g>
<text x="10.3" y="409.3" font-size="10.9" fill="#000" class="t" textLength="266" lengthAdjust="spacing" xml:space="preserve">MACD 12-26   Trigger 5 periodes &amp; Histogramme MACD</text>
<text x="10.3" y="496.8" font-size="10.9" fill="#000" class="t" textLength="125.7" lengthAdjust="spacing">Histogramme des volumes</text>
<g shape-rendering="crispEdges">
<rect x="9" y="416" width="8" height="5" fill="#000"/>
<rect x="25" y="416" width="8" height="7" fill="#000"/>
<rect x="41.5" y="416.5" width="7" height="7" fill="#fff" stroke="#000"/>
<rect x="44.5" y="416.5" width="7" height="4" fill="#fff" stroke="#000"/>
<rect x="60" y="416" width="8" height="9" fill="#000"/>
<rect x="76" y="416" width="8" height="11" fill="#000"/>
<rect x="92.5" y="416.5" width="7" height="9" fill="#fff" stroke="#000"/>
<rect x="108" y="416" width="8" height="8" fill="#000"/>
<rect x="125.5" y="416.5" width="7" height="7" fill="#fff" stroke="#000"/>
<rect x="141.5" y="416.5" width="7" height="3" fill="#fff" stroke="#000"/>
<rect x="157" y="416" width="8" height="4" fill="#000"/>
<rect x="173" y="416" width="8" height="4" fill="#000"/>
<rect x="189" y="416" width="8" height="3" fill="#000"/>
<rect x="205.5" y="416.5" width="7" height="2" fill="#fff" stroke="#000"/>
<rect x="238" y="415" width="8" height="2" fill="#000"/>
<rect x="254.5" y="413.5" width="7" height="3" fill="#fff" stroke="#000"/>
<rect x="270.5" y="411.5" width="7" height="5" fill="#fff" stroke="#000"/>
<rect x="286" y="411" width="8" height="6" fill="#000"/>
<rect x="303" y="411" width="8" height="6" fill="#000"/>
<rect x="319.5" y="412.5" width="7" height="4" fill="#fff" stroke="#000"/>
<rect x="321.5" y="411.5" width="7" height="5" fill="#fff" stroke="#000"/>
<rect x="338.5" y="410.5" width="7" height="6" fill="#fff" stroke="#000"/>
<rect x="354" y="410" width="8" height="7" fill="#000"/>
<rect x="370" y="412" width="8" height="5" fill="#000"/>
<rect x="386.5" y="413.5" width="7" height="3" fill="#fff" stroke="#000"/>
<rect x="402.5" y="413.5" width="7" height="3" fill="#fff" stroke="#000"/>
<rect x="418" y="413" width="8" height="4" fill="#000"/>
<rect x="435" y="413" width="8" height="4" fill="#000"/>
<rect x="451.5" y="413.5" width="7" height="3" fill="#fff" stroke="#000"/>
<rect x="467" y="413" width="8" height="4" fill="#000"/>
<rect x="483" y="414" width="8" height="3" fill="#000"/>
<rect x="499" y="414" width="8" height="3" fill="#000"/>
<rect x="516" y="415" width="8" height="2" fill="#000"/>
<rect x="532" y="415" width="8" height="2" fill="#000"/>
<rect x="548.5" y="414.5" width="7" height="2" fill="#fff" stroke="#000"/>
<rect x="564.5" y="414.5" width="7" height="2" fill="#fff" stroke="#000"/>
<rect x="580" y="415" width="8" height="2" fill="#000"/>
<rect x="631" y="415" width="8" height="2" fill="#000"/>
<rect x="648.5" y="413.5" width="7" height="3" fill="#fff" stroke="#000"/>
<rect x="664.5" y="413.5" width="7" height="3" fill="#fff" stroke="#000"/>
<rect x="680" y="413" width="8" height="4" fill="#000"/>
<rect x="696.5" y="412.5" width="7" height="4" fill="#fff" stroke="#000"/>
<rect x="712.5" y="411.5" width="7" height="5" fill="#fff" stroke="#000"/>
<rect x="729.5" y="411.5" width="7" height="5" fill="#fff" stroke="#000"/>
<rect x="745" y="411" width="8" height="6" fill="#000"/>
<rect x="761.5" y="411.5" width="7" height="5" fill="#fff" stroke="#000"/>
<rect x="777.5" y="411.5" width="7" height="5" fill="#fff" stroke="#000"/>
<rect x="793" y="411" width="8" height="6" fill="#000"/>
</g>
<polyline fill="none" stroke="#1c1c1c" stroke-width="1.15" stroke-linejoin="round"  points="0.0,443.5 12.3,446.2 29.5,451.0 46.8,454.6 64.0,462.7 81.2,470.6 97.2,473.8 112.0,476.2 128.0,477.0 145.2,477.5 161.2,479.2 177.2,480.4 193.2,481.2 209.2,481.4 225.2,481.2 242.3,477.5 258.3,474.3 274.3,470.0 290.3,466.4 306.8,464.2 323.0,462.0 325.5,459.8 342.0,455.3 358.0,452.4 374.0,452.4 390.0,451.4 406.0,450.4 422.0,448.2 439.0,447.2 454.8,445.2 471.0,443.5 487.0,443.5 503.0,442.8 519.0,442.8 535.0,441.5 551.0,440.3 567.6,438.6 583.0,438.6 599.0,439.8 620.0,439.6 636.0,436.9 652.0,434.2 668.0,431.4 684.0,429.5 700.0,426.6 716.5,423.4 733.0,421.3 749.0,419.0 765.0,417.0 781.0,414.0 797.0,411.7"/>
<polyline fill="none" stroke="#1a1a1a" stroke-width="1.25" stroke-linejoin="round" stroke-dasharray="2 2" points="0.0,439.5 14.8,441.8 29.5,444.7 46.8,448.7 64.0,454.6 81.2,460.2 97.2,465.2 112.0,468.4 128.0,471.3 145.2,473.8 161.2,475.8 177.2,477.5 193.2,479.2 209.2,480.2 225.2,481.0 242.3,479.2 258.3,476.8 274.3,473.8 290.3,471.3 306.8,468.9 323.0,466.9 325.5,466.4 342.0,462.7 358.0,459.5 374.0,457.3 390.0,455.6 406.0,454.1 422.0,451.9 439.0,450.7 454.8,449.2 471.0,447.2 487.0,446.0 503.0,445.0 519.0,444.0 535.0,443.3 551.0,442.3 567.6,441.3 583.0,440.6 599.0,440.0 620.0,439.6 636.0,438.6 652.0,437.4 668.0,435.6 684.0,433.9 700.0,431.5 716.5,428.6 733.0,426.3 749.0,424.2 765.0,421.9 781.0,419.3 797.0,416.3"/>
<g shape-rendering="crispEdges">
<rect x="9" y="548" width="8" height="24" fill="#003333"/>
<rect x="25" y="538" width="8" height="34" fill="#003333"/>
<rect x="41.5" y="533.5" width="7" height="38" fill="#fff" stroke="#003333"/>
<rect x="44.5" y="563.5" width="7" height="8" fill="#fff" stroke="#003333"/>
<rect x="60" y="503" width="8" height="69" fill="#003333"/>
<rect x="76" y="528" width="8" height="44" fill="#003333"/>
<rect x="92.5" y="557.5" width="7" height="14" fill="#fff" stroke="#003333"/>
<rect x="108" y="555" width="8" height="17" fill="#003333"/>
<rect x="125.5" y="562.5" width="7" height="9" fill="#fff" stroke="#003333"/>
<rect x="141.5" y="563.5" width="7" height="8" fill="#fff" stroke="#003333"/>
<rect x="157" y="558" width="8" height="14" fill="#003333"/>
<rect x="173" y="537" width="8" height="35" fill="#003333"/>
<rect x="189" y="523" width="8" height="49" fill="#003333"/>
<rect x="205.5" y="551.5" width="7" height="20" fill="#fff" stroke="#003333"/>
<rect x="222" y="554" width="8" height="18" fill="#003333"/>
<rect x="238.5" y="553.5" width="7" height="18" fill="#fff" stroke="#003333"/>
<rect x="254.5" y="554.5" width="7" height="17" fill="#fff" stroke="#003333"/>
<rect x="270.5" y="561.5" width="7" height="10" fill="#fff" stroke="#003333"/>
<rect x="286" y="556" width="8" height="16" fill="#003333"/>
<rect x="303" y="548" width="8" height="24" fill="#003333"/>
<rect x="319" y="551" width="8" height="21" fill="#003333"/>
<rect x="322.5" y="563.5" width="7" height="8" fill="#fff" stroke="#003333"/>
<rect x="338.5" y="546.5" width="7" height="25" fill="#fff" stroke="#003333"/>
<rect x="354" y="553" width="8" height="19" fill="#003333"/>
<rect x="370" y="547" width="8" height="25" fill="#003333"/>
<rect x="386.5" y="569.5" width="7" height="2" fill="#fff" stroke="#003333"/>
<rect x="402.5" y="565.5" width="7" height="6" fill="#fff" stroke="#003333"/>
<rect x="418" y="567" width="8" height="5" fill="#003333"/>
<rect x="435" y="570" width="8" height="2" fill="#003333"/>
<rect x="451.5" y="568.5" width="7" height="3" fill="#fff" stroke="#003333"/>
<rect x="467" y="568" width="8" height="4" fill="#003333"/>
<rect x="483" y="568" width="8" height="4" fill="#003333"/>
<rect x="499" y="569" width="8" height="3" fill="#003333"/>
<rect x="516" y="559" width="8" height="13" fill="#003333"/>
<rect x="532.5" y="569.5" width="7" height="2" fill="#fff" stroke="#003333"/>
<rect x="548.5" y="561.5" width="7" height="10" fill="#fff" stroke="#003333"/>
<rect x="564.5" y="567.5" width="7" height="4" fill="#fff" stroke="#003333"/>
<rect x="580" y="562" width="8" height="10" fill="#003333"/>
<rect x="596" y="553" width="8" height="19" fill="#003333"/>
<rect x="599.5" y="565.5" width="7" height="6" fill="#fff" stroke="#003333"/>
<rect x="615.5" y="557.5" width="7" height="14" fill="#fff" stroke="#003333"/>
<rect x="631.5" y="561.5" width="7" height="10" fill="#fff" stroke="#003333"/>
<rect x="648.5" y="565.5" width="7" height="6" fill="#fff" stroke="#003333"/>
<rect x="664.5" y="561.5" width="7" height="10" fill="#fff" stroke="#003333"/>
<rect x="680" y="565" width="8" height="7" fill="#003333"/>
<rect x="696.5" y="569.5" width="7" height="2" fill="#fff" stroke="#003333"/>
<rect x="712.5" y="555.5" width="7" height="16" fill="#fff" stroke="#003333"/>
<rect x="729.5" y="544.5" width="7" height="27" fill="#fff" stroke="#003333"/>
<rect x="745" y="553" width="8" height="19" fill="#003333"/>
<rect x="761.5" y="564.5" width="7" height="7" fill="#fff" stroke="#003333"/>
<rect x="777.5" y="546.5" width="7" height="25" fill="#fff" stroke="#003333"/>
<rect x="793" y="552" width="8" height="20" fill="#003333"/>
</g>
</svg></body></html>
